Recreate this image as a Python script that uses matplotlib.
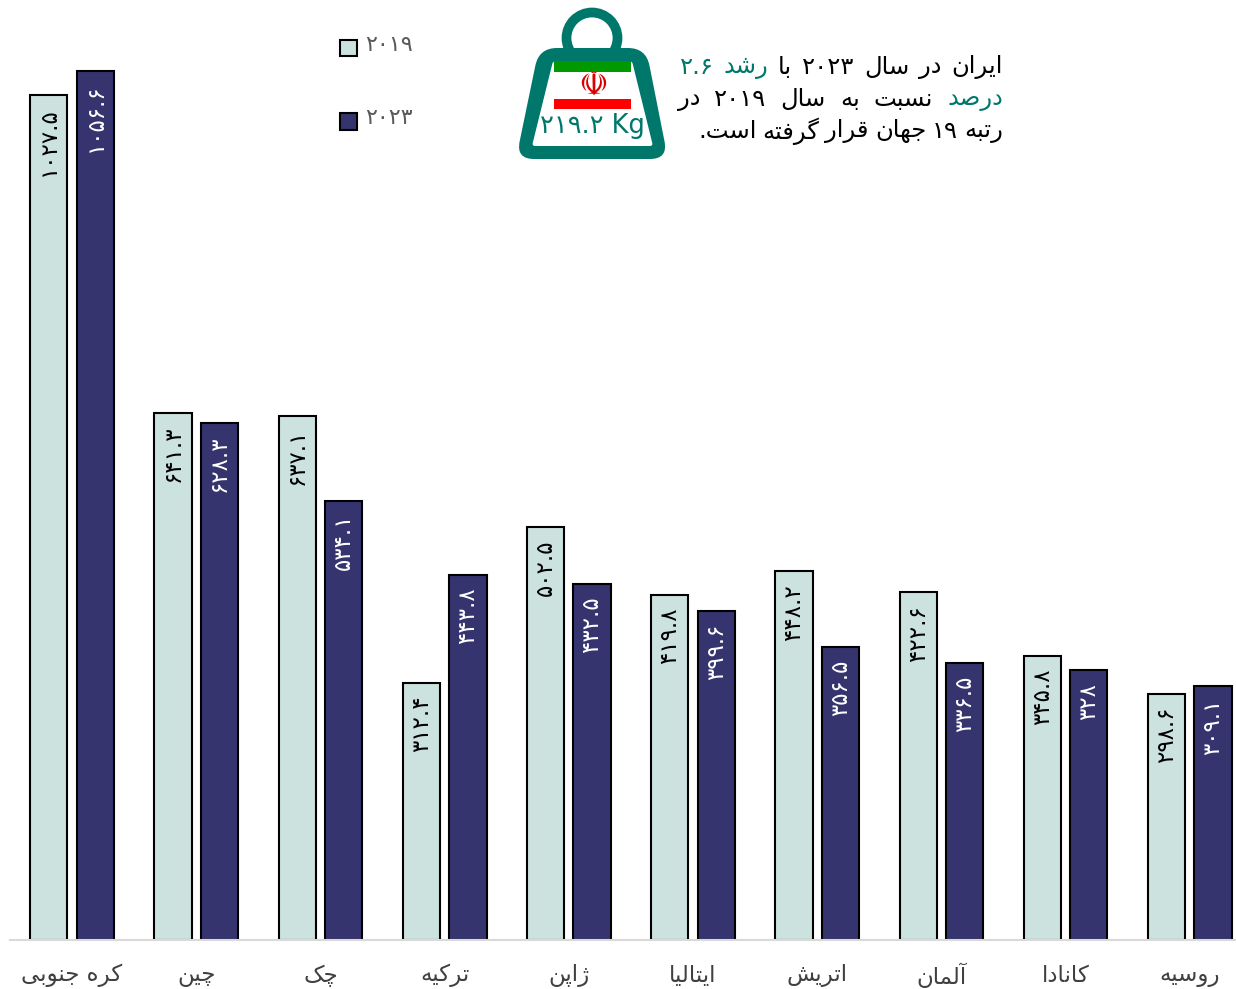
import re
import matplotlib
matplotlib.use('Agg')
import matplotlib.pyplot as plt
from matplotlib.patches import Circle, PathPatch, Rectangle
from matplotlib.path import Path

# Data
countries = ['کره جنوبی', 'چین', 'چک', 'ترکیه', 'ژاپن', 'ایتالیا', 'اتریش', 'آلمان', 'کانادا', 'روسیه']
values2019 = [1027.5, 641.3, 637.1, 312.4, 502.5, 419.8, 448.2, 422.6, 345.8, 298.6]
values2023 = [1056.6, 628.3, 534.1, 443.8, 432.5, 399.6, 356.5, 336.5, 328, 309.1]
labels2019 = ['۱۰۲۷.۵', '۶۴۱.۳', '۶۳۷.۱', '۳۱۲.۴', '۵۰۲.۵', '۴۱۹.۸', '۴۴۸.۲', '۴۲۲.۶', '۳۴۵.۸', '۲۹۸.۶']
labels2023 = ['۱۰۵۶.۶', '۶۲۸.۳', '۵۳۴.۱', '۴۴۳.۸', '۴۳۲.۵', '۳۹۹.۶', '۳۵۶.۵', '۳۳۶.۵', '۳۲۸', '۳۰۹.۱']

LIGHT = '#CCE2DE'
DARK = '#35346F'
TEAL = '#00776B'
FONT = 'DejaVu Sans'

# matplotlib has no arabic shaping, so pick presentation forms by hand
# letter: isolated, final, initial, medial
FORMS = {
    'ا': (0xFE8D, 0xFE8E), 'آ': (0xFE81, 0xFE82), 'د': (0xFEA9, 0xFEAA),
    'ر': (0xFEAD, 0xFEAE), 'ز': (0xFEAF, 0xFEB0), 'ژ': (0xFB8A, 0xFB8B),
    'و': (0xFEED, 0xFEEE),
    'ب': (0xFE8F, 0xFE90, 0xFE91, 0xFE92), 'پ': (0xFB56, 0xFB57, 0xFB58, 0xFB59),
    'ت': (0xFE95, 0xFE96, 0xFE97, 0xFE98), 'ج': (0xFE9D, 0xFE9E, 0xFE9F, 0xFEA0),
    'چ': (0xFB7A, 0xFB7B, 0xFB7C, 0xFB7D), 'س': (0xFEB1, 0xFEB2, 0xFEB3, 0xFEB4),
    'ش': (0xFEB5, 0xFEB6, 0xFEB7, 0xFEB8), 'ص': (0xFEB9, 0xFEBA, 0xFEBB, 0xFEBC),
    'ف': (0xFED1, 0xFED2, 0xFED3, 0xFED4), 'ق': (0xFED5, 0xFED6, 0xFED7, 0xFED8),
    'ک': (0xFB8E, 0xFB8F, 0xFB90, 0xFB91), 'گ': (0xFB92, 0xFB93, 0xFB94, 0xFB95),
    'ل': (0xFEDD, 0xFEDE, 0xFEDF, 0xFEE0), 'م': (0xFEE1, 0xFEE2, 0xFEE3, 0xFEE4),
    'ن': (0xFEE5, 0xFEE6, 0xFEE7, 0xFEE8), 'ه': (0xFEE9, 0xFEEA, 0xFEEB, 0xFEEC),
    'ی': (0xFBFC, 0xFBFD, 0xFBFE, 0xFBFF),
}

def fa(text):
    out = ''
    for i, c in enumerate(text):
        if c not in FORMS:
            out += c
            continue
        prev = text[i-1] if i > 0 else ' '
        nxt = text[i+1] if i < len(text)-1 else ' '
        joinPrev = prev in FORMS and len(FORMS[prev]) == 4
        joinNext = nxt in FORMS and len(FORMS[c]) == 4
        if joinPrev and joinNext:
            out += chr(FORMS[c][3])
        elif joinPrev:
            out += chr(FORMS[c][1])
        elif joinNext:
            out += chr(FORMS[c][2])
        else:
            out += chr(FORMS[c][0])
    # visual order, numbers keep their direction
    out = out[::-1]
    return re.sub(r'[۰-۹]+(\.[۰-۹]+)?', lambda m: m.group(0)[::-1], out)

fig = plt.figure(figsize=(12.36, 9.89), dpi=100)
ax = fig.add_axes([10/1236, 49/989, 1226/1236, 940/989])

x = list(range(len(countries)))
w = 0.30
off = 0.187
bars1 = ax.bar([i-off for i in x], values2019, w, color=LIGHT, edgecolor='black', linewidth=1.5, label=fa('۲۰۱۹'))
bars2 = ax.bar([i+off for i in x], values2023, w, color=DARK, edgecolor='black', linewidth=1.5, label=fa('۲۰۲۳'))

for b, l in zip(bars1, labels2019):
    ax.annotate(l, (b.get_x()+b.get_width()/2, b.get_height()), xytext=(0, -9), textcoords='offset points',
                rotation=90, ha='center', va='top', fontsize=16.5, color='black', family=FONT)
for b, l in zip(bars2, labels2023):
    ax.annotate(l, (b.get_x()+b.get_width()/2, b.get_height()), xytext=(0, -9), textcoords='offset points',
                rotation=90, ha='center', va='top', fontsize=16.5, color='white', family=FONT)

ax.set_xlim(-0.5, 9.372)
ax.set_ylim(0, 940/0.8225)
ax.set_yticks([])
ax.set_xticks(x)
ax.set_xticklabels([fa(c) for c in countries], fontsize=16.5, color='#404040', family=FONT)
ax.tick_params(axis='x', length=0, pad=17)
for s in ['top', 'left', 'right']:
    ax.spines[s].set_visible(False)
ax.spines['bottom'].set_color('#D9D9D9')
ax.spines['bottom'].set_linewidth(1.5)
ax.spines['bottom'].set_zorder(5)

leg = fig.legend(loc='upper left', bbox_to_anchor=(340/1236, 1-40/989), frameon=False, fontsize=16,
                 handlelength=0.76, handleheight=0.76, handletextpad=0.35, labelspacing=2.4,
                 labelcolor='#595959', borderpad=0, borderaxespad=0)
for t in leg.get_texts():
    t.set_position((0, 5))

# overlay in pixels for the weight icon and the note
ov = fig.add_axes([0, 0, 1, 1], zorder=10)
ov.set_xlim(0, 1236)
ov.set_ylim(989, 0)
ov.axis('off')

def rounded(points, r):
    verts = []
    codes = []
    n = len(points)
    for i in range(n):
        px, py = points[i]
        ax0, ay0 = points[i-1]
        bx0, by0 = points[(i+1) % n]
        d1 = ((ax0-px)**2 + (ay0-py)**2)**0.5
        d2 = ((bx0-px)**2 + (by0-py)**2)**0.5
        start = (px+(ax0-px)*r/d1, py+(ay0-py)*r/d1)
        end = (px+(bx0-px)*r/d2, py+(by0-py)*r/d2)
        verts += [start, (px, py), end]
        codes += [Path.MOVETO if i == 0 else Path.LINETO, Path.CURVE3, Path.CURVE3]
    verts.append(verts[0])
    codes.append(Path.CLOSEPOLY)
    return Path(verts, codes)

ov.add_patch(Circle((592, 38), 25.5, fc='none', ec=TEAL, lw=7))
ov.add_patch(PathPatch(rounded([(539, 48), (646, 48), (668, 159), (516, 159)], 18), fc=TEAL, ec='none'))
ov.add_patch(PathPatch(rounded([(553, 61), (632, 61), (653, 146), (532, 146)], 3), fc='white', ec='none'))
ov.add_patch(Rectangle((554, 61), 77, 11, fc='#009900', ec='none'))
ov.add_patch(Rectangle((554, 99), 77, 10, fc='#FF0000', ec='none'))
ov.text(593, 85, '\u262B', color='#DA0000', fontsize=24, ha='center', va='center', family=FONT)
ov.text(592.5, 126, fa('۲۱۹.۲') + ' Kg', color=TEAL, fontsize=18.5, ha='center', va='center', family=FONT)

renderer = fig.canvas.get_renderer()

def note_line(words, y, right=1003, left=None, gap=7):
    # words run right to left, justified when left is given
    items = [ov.text(right, y, fa(t), color=c, fontsize=17.5, ha='right', va='center', family=FONT) for t, c in words]
    widths = [t.get_window_extent(renderer).width for t in items]
    if left is not None:
        gap = (right-left-sum(widths))/(len(items)-1)
    pos = right
    for t, wd in zip(items, widths):
        t.set_x(pos)
        pos -= wd+gap

note_line([('ایران', 'black'), ('در', 'black'), ('سال', 'black'), ('۲۰۲۳', 'black'), ('با', 'black'),
           ('رشد', TEAL), ('۲.۶', TEAL)], 67, left=680)
note_line([('درصد', TEAL), ('نسبت', 'black'), ('به', 'black'), ('سال', 'black'), ('۲۰۱۹', 'black'), ('در', 'black')], 99, left=678)
note_line([('رتبه', 'black'), ('۱۹', 'black'), ('جهان', 'black'), ('قرار', 'black'), ('گرفته', 'black'), ('است.', 'black')], 131, gap=6)

fig.savefig('out.png', dpi=100, facecolor='w')
